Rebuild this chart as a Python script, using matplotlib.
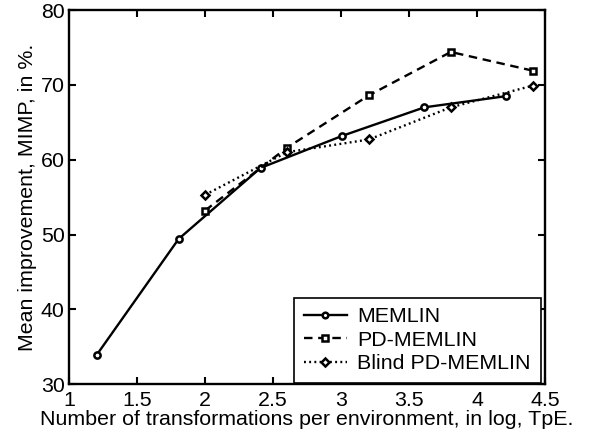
import matplotlib
matplotlib.use("Agg")
import matplotlib.pyplot as plt

plt.rcParams['font.family'] = ['Liberation Sans', 'DejaVu Sans']

# x is log10 of the number of transformations per environment
x_memlin = [1.204, 1.806, 2.408, 3.010, 3.612, 4.214]
y_memlin = [33.9, 49.4, 58.9, 63.2, 67.0, 68.5]

x_pd = [2.000, 2.602, 3.204, 3.806, 4.408]
y_pd = [53.2, 61.6, 68.6, 74.4, 71.9]

x_blind = [2.000, 2.602, 3.204, 3.806, 4.408]
y_blind = [55.3, 61.0, 62.7, 67.0, 69.9]

fig = plt.figure(figsize=(5.94, 4.38), dpi=100)
ax = fig.add_axes([0.116, 0.123, 0.802, 0.854])

style = dict(color='k', linewidth=1.7, markersize=4.5,
             markerfacecolor='white', markeredgewidth=1.8)
ax.plot(x_memlin, y_memlin, linestyle='-', marker='o', label='MEMLIN', **style)
ax.plot(x_pd, y_pd, linestyle=(0, (3.6, 2.4)), marker='s', label='PD-MEMLIN', **style)
ax.plot(x_blind, y_blind, linestyle=(0, (0.8, 1.4)), marker='D',
        label='Blind PD-MEMLIN', **style)

ax.set_xlim(1, 4.5)
ax.set_ylim(30, 80)
ax.set_xticks([1, 1.5, 2, 2.5, 3, 3.5, 4, 4.5])
ax.set_xticklabels(['1', '1.5', '2', '2.5', '3', '3.5', '4', '4.5'])
ax.set_yticks([30, 40, 50, 60, 70, 80])

ax.tick_params(direction='in', top=True, right=True, length=5, width=1.5,
               labelsize=15.4)
ax.tick_params(axis='x', pad=5)
ax.tick_params(axis='y', pad=3)
for s in ax.spines.values():
    s.set_linewidth(1.7)

ax.set_xlabel('Number of transformations per environment, in log, TpE.',
              fontsize=15.4, labelpad=0)
ax.set_ylabel('Mean improvement, MIMP, in %.', fontsize=15.4, labelpad=3)

leg = ax.legend(loc='lower right', bbox_to_anchor=(0.99, 0.004),
                fontsize=15.4, fancybox=False,
                edgecolor='k', framealpha=1, borderaxespad=0.0,
                handlelength=2.0, handletextpad=0.5, labelspacing=0.2,
                borderpad=0.45, markerscale=0.9)
leg.get_frame().set_linewidth(1.2)

fig.savefig('out.png', dpi=100)
